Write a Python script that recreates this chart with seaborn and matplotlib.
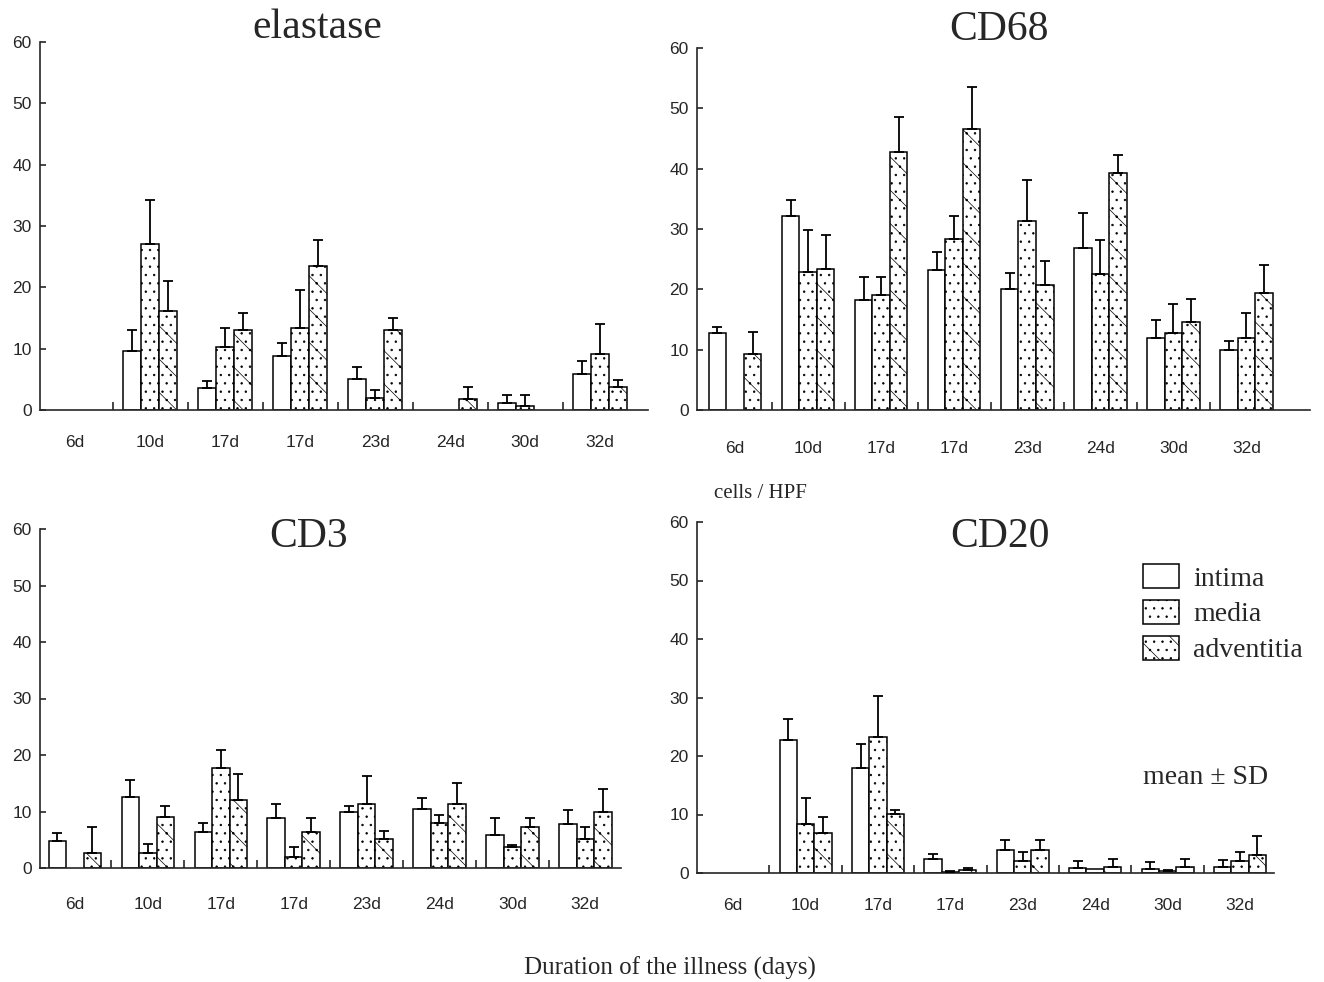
import numpy as np
import pandas as pd
import matplotlib
matplotlib.use("Agg")
import matplotlib.pyplot as plt
import seaborn as sns
from matplotlib.patches import Patch
from matplotlib.container import BarContainer
from matplotlib.ticker import FixedLocator

nan = np.nan

days = ["6d", "10d", "17d", "17d", "23d", "24d", "30d", "32d"]
layers = ["intima", "media", "adventitia"]

# ---- elastase ----
elastase_intima = [nan, 9.6, 3.6, 8.8, 5.0, nan, 1.1, 5.9]
elastase_media = [nan, 27.1, 10.3, 13.4, 1.9, nan, 0.65, 9.1]
elastase_adventitia = [nan, 16.2, 13.1, 23.4, 13.0, 1.8, nan, 3.8]
elastase_intima_sd = [nan, 3.4, 1.1, 2.1, 2.0, nan, 1.3, 2.1]
elastase_media_sd = [nan, 7.1, 3.1, 6.2, 1.3, nan, 1.8, 5.0]
elastase_adventitia_sd = [nan, 4.9, 2.7, 4.3, 2.0, 2.0, nan, 1.1]

# ---- CD68 ----
cd68_intima = [12.7, 32.1, 18.3, 23.2, 20.1, 26.9, 12.0, 10.0]
cd68_media = [nan, 22.8, 19.0, 28.3, 31.3, 22.6, 12.7, 11.9]
cd68_adventitia = [9.2, 23.3, 42.8, 46.6, 20.8, 39.3, 14.6, 19.4]
cd68_intima_sd = [1.0, 2.7, 3.7, 3.0, 2.6, 5.7, 3.0, 1.5]
cd68_media_sd = [nan, 7.0, 3.0, 3.8, 6.8, 5.6, 4.9, 4.1]
cd68_adventitia_sd = [3.7, 5.7, 5.8, 7.0, 3.9, 3.0, 3.8, 4.7]

# ---- CD3 ----
cd3_intima = [4.8, 12.5, 6.3, 8.9, 9.9, 10.4, 5.9, 7.8]
cd3_media = [nan, 2.6, 17.7, 2.0, 11.4, 8.0, 3.7, 5.2]
cd3_adventitia = [2.7, 9.0, 12.0, 6.3, 5.1, 11.4, 7.3, 9.9]
cd3_intima_sd = [1.4, 3.1, 1.6, 2.5, 1.0, 2.0, 3.0, 2.5]
cd3_media_sd = [nan, 1.6, 3.1, 1.7, 4.8, 1.4, 0.4, 2.0]
cd3_adventitia_sd = [4.6, 1.9, 4.6, 2.6, 1.5, 3.6, 1.6, 4.0]

# ---- CD20 ----
cd20_intima = [nan, 22.75, 18.0, 2.4, 4.0, 0.85, 0.7, 1.1]
cd20_media = [nan, 8.4, 23.2, 0.2, 2.0, 0.7, 0.3, 2.0]
cd20_adventitia = [nan, 6.8, 10.1, 0.5, 4.0, 1.1, 1.1, 3.1]
cd20_intima_sd = [nan, 3.5, 4.0, 0.8, 1.6, 1.15, 1.1, 1.2]
cd20_media_sd = [nan, 4.4, 7.1, 0.2, 1.6, 0.0, 0.2, 1.6]
cd20_adventitia_sd = [nan, 2.8, 0.7, 0.3, 1.6, 1.3, 1.3, 3.3]

titles = ["elastase", "CD68", "CD3", "CD20"]

sns.set_style("ticks")
plt.rcParams["font.family"] = ["Liberation Sans", "DejaVu Sans"]
plt.rcParams["hatch.linewidth"] = 0.5
plt.rcParams["axes.linewidth"] = 1.2

SERIF = ["Liberation Serif", "DejaVu Serif"]
hatches = ["", "..", "\\.."]

W, H = 1324, 982
fig = plt.figure(figsize=(W / 100, H / 100), dpi=100)


def rect(l, r, t, b):
    return [l / W, 1 - b / H, (r - l) / W, (b - t) / H]


panels = [
    dict(title="elastase", means=[elastase_intima, elastase_media, elastase_adventitia],
         sds=[elastase_intima_sd, elastase_media_sd, elastase_adventitia_sd],
         rect=rect(40, 648, 42, 410), xlim=(-0.47, 7.64), txy=(317, 28), pad=18),
    dict(title="CD68", means=[cd68_intima, cd68_media, cd68_adventitia],
         sds=[cd68_intima_sd, cd68_media_sd, cd68_adventitia_sd],
         rect=rect(697, 1310, 48, 410), xlim=(-0.52, 7.87), txy=(999, 30), pad=22),
    dict(title="CD3", means=[cd3_intima, cd3_media, cd3_adventitia],
         sds=[cd3_intima_sd, cd3_media_sd, cd3_adventitia_sd],
         rect=rect(40, 621, 529, 868), xlim=(-0.48, 7.49), txy=(309, 537), pad=21),
    dict(title="CD20", means=[cd20_intima, cd20_media, cd20_adventitia],
         sds=[cd20_intima_sd, cd20_media_sd, cd20_adventitia_sd],
         rect=rect(697, 1274, 522, 873), xlim=(-0.5, 7.47), txy=(1000, 537), pad=18),
]

for p in panels:
    ax = fig.add_axes(p["rect"])
    rows = []
    for layer, m in zip(layers, p["means"]):
        for i, v in enumerate(m):
            if not np.isnan(v):
                rows.append({"pos": i, "layer": layer, "value": v})
    df = pd.DataFrame(rows)
    sns.barplot(data=df, x="pos", y="value", hue="layer", hue_order=layers,
                order=list(range(len(days))), width=0.72, dodge=True,
                errorbar=None, palette=["white"] * 3, edgecolor="black",
                linewidth=1.1, legend=False, ax=ax)
    bar_conts = [c for c in ax.containers if isinstance(c, BarContainer)]
    for j, cont in enumerate(bar_conts):
        for bar in cont:
            if bar is None:
                continue
            bar.set_hatch(hatches[j])
            h = bar.get_height()
            if np.isnan(h):
                continue
            cx = bar.get_x() + bar.get_width() / 2
            idx = int(round(cx))
            sd = p["sds"][j][idx]
            if not np.isnan(sd) and sd > 0:
                ax.errorbar([cx], [h], yerr=[[0], [sd]], fmt="none",
                            ecolor="black", elinewidth=1.3, capsize=3.5,
                            capthick=1.3, zorder=3)
    sns.despine(ax=ax)
    ax.set_xlim(*p["xlim"])
    ax.set_ylim(0, 60)
    ax.set_yticks(range(0, 61, 10))
    ax.set_xticks(range(len(days)))
    ax.set_xticklabels(days)
    ax.xaxis.set_minor_locator(FixedLocator([i + 0.5 for i in range(len(days) - 1)]))
    ax.tick_params(axis="x", which="major", length=0, pad=p["pad"], labelsize=12.5)
    ax.tick_params(axis="x", which="minor", direction="in", length=6, width=1.2)
    ax.tick_params(axis="y", direction="in", length=4, width=1.2, pad=6, labelsize=12.5)
    ax.set_xlabel("")
    ax.set_ylabel("")
    fig.text(p["txy"][0] / W, 1 - p["txy"][1] / H, p["title"], ha="center",
             va="center", fontsize=30, family=SERIF)

# legend
handles = [Patch(facecolor="white", edgecolor="black", hatch=h, linewidth=1.1) for h in hatches]
fig.legend(handles, layers, loc="upper left", bbox_to_anchor=(1143 / W, 1 - 564 / H),
           frameon=False, prop={"family": SERIF, "size": 20}, handlelength=1.3,
           handleheight=0.95, handletextpad=0.5, labelspacing=0.3,
           borderpad=0, borderaxespad=0)

fig.text(1143 / W, 1 - 778 / H, "mean ± SD", ha="left", va="center",
         fontsize=20, family=SERIF)
fig.text(760 / W, 1 - 494 / H, "cells / HPF", ha="center", va="center",
         fontsize=15, family=SERIF)
fig.text(670 / W, 1 - 968 / H, "Duration of the illness (days)", ha="center",
         va="center", fontsize=18, family=SERIF)

fig.savefig("out.png", dpi=100)
